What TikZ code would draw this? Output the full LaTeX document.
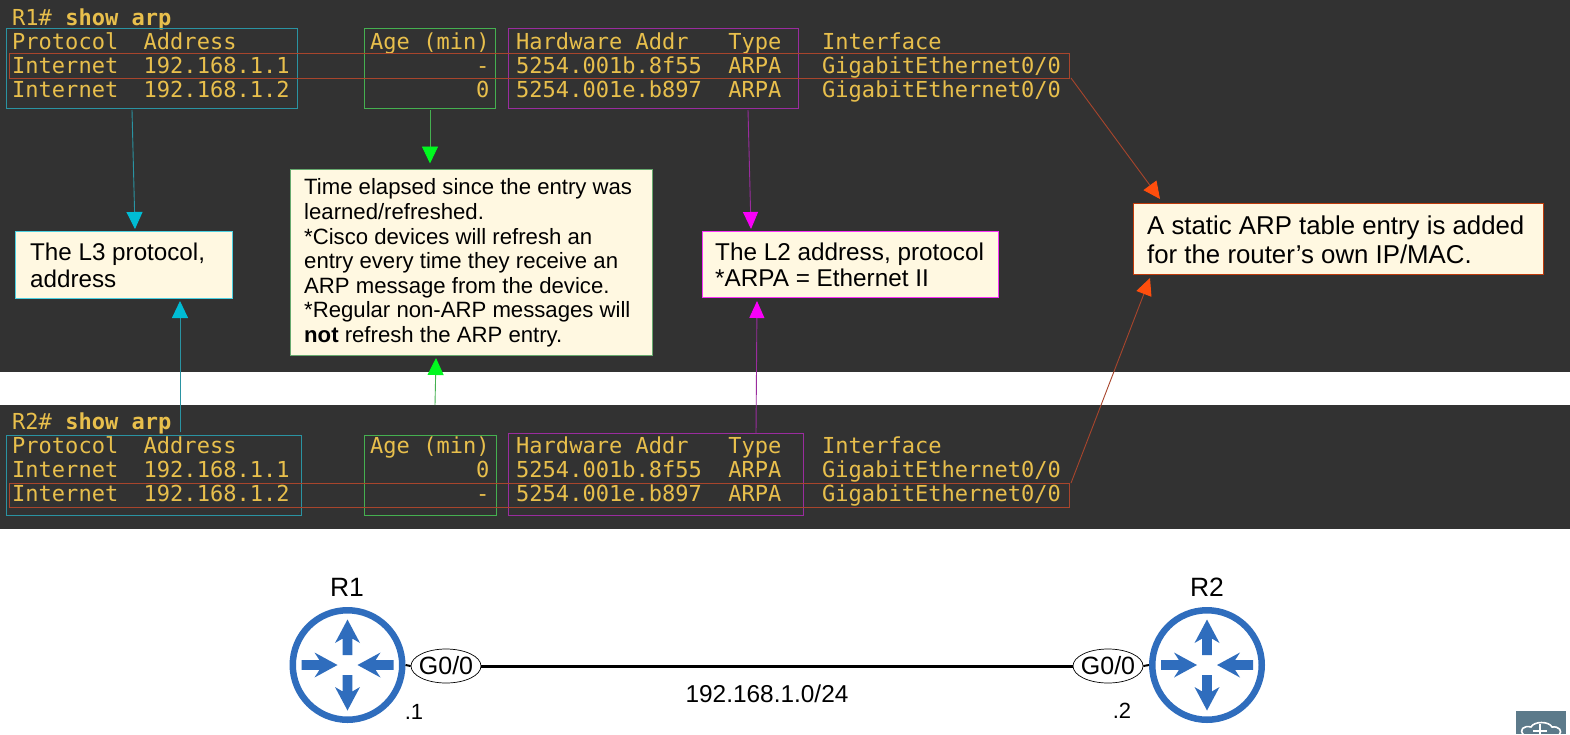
\documentclass[tikz,border=0pt]{standalone}
\usepackage{fontspec}
\setmainfont{Liberation Sans}
\newfontfamily\termfont{DejaVu Sans Mono}
\usetikzlibrary{arrows.meta,shapes.geometric}
\definecolor{termbg}{HTML}{323232}
\definecolor{termtxt}{HTML}{E8BF4C}
\definecolor{notebg}{HTML}{FFF8E1}
\definecolor{cyanln}{HTML}{2A93A2}
\definecolor{greenln}{HTML}{45B050}
\definecolor{purpln}{HTML}{9A2C9E}
\definecolor{redln}{HTML}{A8452C}
\definecolor{cyantip}{HTML}{00BCD4}
\definecolor{greentip}{HTML}{00F81F}
\definecolor{magtip}{HTML}{F800F8}
\definecolor{redtip}{HTML}{FF4E0D}
\definecolor{rtblue}{HTML}{2F6DBD}
\definecolor{logobg}{HTML}{5C7A8A}
\tikzset{
  term/.style={anchor=base west,inner sep=0pt,text=termtxt,font=\termfont\fontsize{22.03}{24}\selectfont},
  panel/.style={fill=termbg,draw=none},
  framebox/.style={draw=#1,line width=1pt,fill=none},
  note/.style={draw=#1,line width=1pt,fill=notebg},
  notetext/.style={anchor=west,inner sep=0pt,text=black,align=left},
  link/.style={draw=#1,line width=0.9pt},
  cyantipped/.style={-{Triangle[color=cyantip,length=17pt,width=16pt]}},
  greentipped/.style={-{Triangle[color=greentip,length=17pt,width=16pt]}},
  magtipped/.style={-{Triangle[color=magtip,length=17pt,width=15pt]}},
  redtipped/.style={-{Triangle[color=redtip,length=17pt,width=16pt]}},
  iface/.style={ellipse,draw=black,line width=0.7pt,fill=white,minimum width=70pt,minimum height=34pt,inner xsep=-3pt,inner ysep=0pt,font=\fontsize{25}{28}\selectfont},
  routerdisc/.style={circle,draw=rtblue,line width=6.5pt,fill=white,minimum size=109.5pt,inner sep=0pt},
  plainlabel/.style={inner sep=0pt,text=black},
}
% style, name, x0, y0, x1, y1
\newcommand\rectnode[6]{\node[#1,outer sep=0pt,inner sep=0pt,minimum width={(#5-(#3))*1pt},minimum height={(#6-(#4))*1pt}] (#2) at ({(#3+#5)/2},{(#4+#6)/2}) {};}
% colour, name, x0, y0, x1, y1, inset, font size, text
\newcommand\notenode[9]{\rectnode{note=#1}{#2}{#3}{#4}{#5}{#6}\node[notetext,font=#8] (#2text) at ({#3+#7},{(#4+#6)/2+1}) {#9};}
\newcommand\rtglyph[2]{%
 \begin{scope}[shift={(#1,#2)}]
  \foreach \a in {0,180}{\fill[rtblue,rotate=\a] (0,-45.5) -- (12.5,-22) -- (4.8,-26.5) -- (4.8,-10) -- (-4.8,-10) -- (-4.8,-26.5) -- (-12.5,-22) -- cycle;}
  \foreach \a in {90,270}{\fill[rtblue,rotate=\a] (0,-10) -- (12.5,-33) -- (4.8,-28) -- (4.8,-46) -- (-4.8,-46) -- (-4.8,-28) -- (-12.5,-33) -- cycle;}
 \end{scope}}
\begin{document}
\begin{tikzpicture}[x=1pt,y=-1pt]
\useasboundingbox (0,0) rectangle (1570,734);
\fill[white] (0,0) rectangle (1570,734);
\rectnode{panel}{panelA}{0}{0}{1570}{372}
\rectnode{panel}{panelB}{0}{405}{1570}{529}
% R1 terminal
\node[term] (aT) at (12,25) {R1\# \textbf{show arp}};
\node[term] (aH) at (12,49) {Protocol};
\node[term] (aH1) at (143.5,49) {Address};
\node[term] (aH2) at (370,49) {Age (min)};
\node[term] (aH3) at (516,49) {Hardware Addr~~~Type};
\node[term] (aH4) at (822,49) {Interface};
\node[term] (a1) at (12,73) {Internet};
\node[term] (a1a) at (143.5,73) {192.168.1.1};
\node[term] (a1b) at (476,73) {-};
\node[term] (a1c) at (516,73) {5254.001b.8f55~~ARPA};
\node[term] (a1d) at (822,73) {GigabitEthernet0/0};
\node[term] (a2) at (12,97) {Internet};
\node[term] (a2a) at (143.5,97) {192.168.1.2};
\node[term] (a2b) at (476,97) {0};
\node[term] (a2c) at (516,97) {5254.001e.b897~~ARPA};
\node[term] (a2d) at (822,97) {GigabitEthernet0/0};
% R2 terminal
\node[term] (bT) at (12,429) {R2\# \textbf{show arp}};
\node[term] (bH) at (12,453) {Protocol};
\node[term] (bH1) at (143.5,453) {Address};
\node[term] (bH2) at (370,453) {Age (min)};
\node[term] (bH3) at (516,453) {Hardware Addr~~~Type};
\node[term] (bH4) at (822,453) {Interface};
\node[term] (b1) at (12,477) {Internet};
\node[term] (b1a) at (143.5,477) {192.168.1.1};
\node[term] (b1b) at (476,477) {0};
\node[term] (b1c) at (516,477) {5254.001b.8f55~~ARPA};
\node[term] (b1d) at (822,477) {GigabitEthernet0/0};
\node[term] (b2) at (12,501) {Internet};
\node[term] (b2a) at (143.5,501) {192.168.1.2};
\node[term] (b2b) at (476,501) {-};
\node[term] (b2c) at (516,501) {5254.001e.b897~~ARPA};
\node[term] (b2d) at (822,501) {GigabitEthernet0/0};
% frames
\rectnode{framebox=cyanln}{fa1}{6}{28}{297}{108}
\rectnode{framebox=greenln}{fa2}{364}{28}{495}{108}
\rectnode{framebox=purpln}{fa3}{508}{28}{798}{108}
\rectnode{framebox=redln}{fa4}{9}{53}{1069}{78}
\rectnode{framebox=cyanln}{fb1}{6}{435}{301}{515}
\rectnode{framebox=greenln}{fb2}{364}{435}{496}{515}
\rectnode{framebox=purpln}{fb3}{508}{433}{803}{515}
\rectnode{framebox=redln}{fb4}{9}{483}{1069}{507}
% notes
\notenode{cyantip!70!white}{nLthree}{15}{231}{232}{298}{15}{\fontsize{24.2}{27}\selectfont}{The L3 protocol,\\address}
\notenode{greentip!45!black!60!white}{nAge}{290}{169}{652}{355}{14}{\fontsize{22.15}{24.6}\selectfont}{Time elapsed since the entry was\\learned/refreshed.\\{}*Cisco devices will refresh an\\entry every time they receive an\\ARP message from the device.\\{}*Regular non-ARP messages will\\\textbf{not} refresh the ARP entry.}
\notenode{magtip!80!white}{nLtwo}{702}{231}{998}{297}{13}{\fontsize{24.3}{26}\selectfont}{The L2 address, protocol\\{}*ARPA = Ethernet II}
\notenode{redtip!75!black}{nStatic}{1133}{203}{1543}{274}{14}{\fontsize{25.8}{29}\selectfont}{A static ARP table entry is added\\for the router’s own IP/MAC.}
% connectors
\draw[link=cyanln,cyantipped] ([xshift=-19.5pt,yshift=-2pt]fa1.south) -- ([xshift=11.5pt,yshift=2pt]nLthree.north);
\draw[link=cyanln,cyantipped] ([xshift=26.5pt,yshift=3pt]fb1.north) -- ([xshift=56.5pt,yshift=-3pt]nLthree.south);
\draw[link=greenln,greentipped] ([xshift=0.5pt,yshift=-2pt]fa2.south) -- ([xshift=-41pt,yshift=5.5pt]nAge.north);
\draw[link=greenln,greentipped] ([xshift=5pt,yshift=30pt]fb2.north) -- ([xshift=-35pt,yshift=-3pt]nAge.south);
\draw[link=purpln,magtipped] ([xshift=95pt,yshift=-2pt]fa3.south) -- ([xshift=-99pt,yshift=2pt]nLtwo.north);
\draw[link=purpln,magtipped] ([xshift=100.5pt]fb3.north) -- ([xshift=-93pt,yshift=-4pt]nLtwo.south);
\draw[link=redln,redtipped] ([xshift=2pt]fa4.south east) -- ([xshift=-178pt,yshift=4pt]nStatic.north);
\draw[link=redln,redtipped] ([xshift=2pt]fb4.north east) -- ([xshift=-188pt,yshift=-4pt]nStatic.south);
% network
\node[routerdisc] (r1) at (347.5,665) {};
\node[routerdisc] (r2) at (1207,665) {};
\rtglyph{347.5}{665}
\rtglyph{1207}{665}
\node[iface] (g1) at (446,666) {G0/0};
\node[iface] (g2) at (1108,666) {G0/0};
\draw[black,line width=3pt] (g1) -- (g2);
\draw[black,line width=2pt] (r1.east) -- (g1.west);
\draw[black,line width=2pt] (r2.west) -- (g2.east);
\node[plainlabel,font=\fontsize{26.5}{28}\selectfont] (l1) at (347,587) {R1};
\node[plainlabel,font=\fontsize{26.5}{28}\selectfont] (l2) at (1207,587) {R2};
\node[plainlabel,font=\fontsize{22}{26}\selectfont] (d1) at (414,712) {.1};
\node[plainlabel,font=\fontsize{22}{26}\selectfont] (d2) at (1122,711) {.2};
\node[plainlabel,font=\fontsize{24.4}{28}\selectfont] (net) at (767,694) {192.168.1.0/24};
% logo
\fill[logobg] (1516,711) rectangle (1566,734);
\draw[white,line width=1.6pt] (1524,735) .. controls (1518,730) and (1524,725) .. (1531,727) .. controls (1534,721) and (1549,721) .. (1552,727) .. controls (1559,726) and (1563,731) .. (1559,735);
\draw[white,line width=1.2pt] (1540,724) -- (1540,735) (1533,731) -- (1547,731);
\end{tikzpicture}
\end{document}
